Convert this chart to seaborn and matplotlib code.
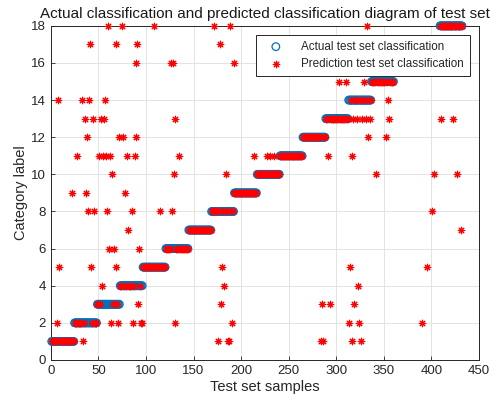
import numpy as np
import pandas as pd
import matplotlib
matplotlib.use('Agg')
import matplotlib.pyplot as plt
import seaborn as sns

# true classes of the test set (samples sorted by class)
class_labels = [1, 2, 3, 4, 5, 6, 7, 8, 9, 10, 11, 12, 13, 14, 15, 16, 17, 18]
class_counts = [24, 24, 24, 24, 24, 24, 24, 24, 24, 24, 24, 24, 24, 24, 24, 24, 24, 24]

# misclassified samples: sample index and predicted label
wrong_idx = [7, 8, 9, 22,
             28, 33, 34, 36, 37, 38, 39, 40, 41, 42, 44, 45,
             51, 53, 54, 55, 56, 57, 58, 59, 60, 61, 62, 63, 64, 66, 68, 69, 71, 72,
             75, 76, 78, 80, 81, 85, 86, 88, 89, 90, 91, 92, 93, 95, 96,
             108, 115,
             126, 127, 128, 129, 130, 131, 135,
             172, 176, 178, 179, 180, 182, 184, 186, 187, 188, 190, 192,
             214, 227, 230, 234,
             284, 285, 286,
             291, 293, 303, 310,
             313, 314, 316, 317, 318, 319, 322, 323, 324, 326, 327, 329, 331, 332, 333, 335,
             342, 352, 354, 355,
             390, 395, 401, 403,
             410, 423, 427, 431]
wrong_pred = [2, 14, 5, 9,
              11, 14, 1, 13, 9, 12, 8, 14, 17, 5, 13, 8,
              11, 13, 4, 11, 13, 14, 11, 8, 18, 6, 11, 2, 10, 6, 17, 5, 2, 12,
              18, 12, 9, 11, 7, 8, 2, 11, 12, 16, 17, 3, 6, 2, 2,
              18, 8,
              16, 8, 16, 10, 2, 13, 11,
              18, 1, 17, 3, 5, 4, 10, 1, 1, 18, 2, 16,
              11, 11, 11, 11,
              1, 3, 1,
              11, 3, 15, 15,
              2, 5, 1, 11, 13, 3, 13, 4, 2, 1, 13, 15, 13, 18, 12, 13,
              10, 12, 14, 13,
              2, 5, 8, 10,
              13, 13, 10, 7]

actual = np.repeat(class_labels, class_counts)
samples = np.arange(1, len(actual) + 1)
predicted = actual.copy()
predicted[np.array(wrong_idx) - 1] = wrong_pred

df = pd.DataFrame({'sample': samples, 'actual': actual, 'predicted': predicted})

sns.set_theme(style='ticks')
plt.rcParams['font.family'] = ['Liberation Sans', 'DejaVu Sans']

fig, ax = plt.subplots(figsize=(4.98, 4.04), dpi=100)
fig.subplots_adjust(left=0.102, right=0.962, bottom=0.109, top=0.936)

sns.scatterplot(data=df, x='sample', y='actual', ax=ax, marker='o', s=30,
                facecolors='none', edgecolor='#0072BD', linewidth=0.9,
                label='Actual test set classification', clip_on=False, zorder=3)
sns.scatterplot(data=df, x='sample', y='predicted', ax=ax, marker=(8, 2, 0), s=22,
                color='red', edgecolor='red', linewidth=0.8,
                label='Prediction test set classification', clip_on=False, zorder=4)

ax.set_xlim(0, 450)
ax.set_ylim(0, 18)
ax.set_xticks(range(0, 451, 50))
ax.set_yticks(range(0, 19, 2))
ax.grid(True, color='#e3e3e3', linewidth=0.7)
ax.set_axisbelow(True)
ax.tick_params(direction='in', length=3, labelsize=9.5, colors='#262626', width=0.6)
for sp in ax.spines.values():
    sp.set_color('#262626')
    sp.set_linewidth(0.7)

ax.set_title('Actual classification and predicted classification diagram of test set',
             fontsize=11, color='#1a1a1a', pad=6)
ax.set_xlabel('Test set samples', fontsize=10.5, color='#262626', labelpad=2)
ax.set_ylabel('Category label', fontsize=10.5, color='#262626', labelpad=2)

leg = ax.legend(loc='upper right', bbox_to_anchor=(0.979, 0.973), borderaxespad=0,
                fancybox=False, framealpha=1, edgecolor='#262626', fontsize=8.4,
                handlelength=2.4, handletextpad=1.0, borderpad=0.5, labelspacing=0.45)
leg.get_frame().set_linewidth(0.7)
leg.set_zorder(10)

fig.savefig('out.png', dpi=100)
